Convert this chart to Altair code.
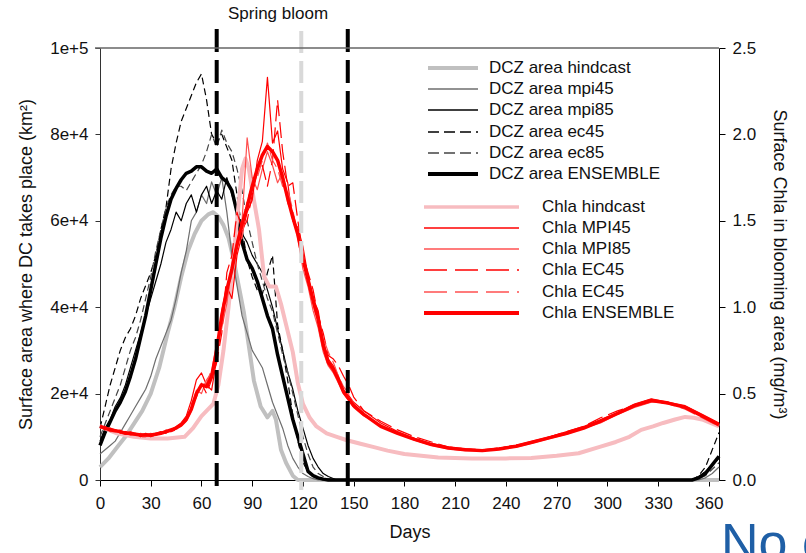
import altair as alt
import pandas as pd

FONT = "Liberation Sans"
TXT = "#111111"

# ---------------- data ----------------
# DCZ area (thousand km2)
dcz_grid = list(range(0, 136, 3)) + [140, 350, 354, 358, 362, 366]

dcz_hind_days = [0, 5, 10, 15, 20, 25, 30, 35, 40, 44,
                 48, 52, 56, 60, 64, 67, 70, 73, 76, 79,
                 82, 85, 88, 91, 95, 99, 102, 104, 107, 110,
                 114, 117, 366]
dcz_hind = [3, 5, 7.5, 10, 13, 16, 20, 26, 34, 40,
            47, 53, 57, 60, 61.5, 62, 61, 59, 56, 51,
            45, 39, 31, 23, 17, 14.5, 16, 14, 7, 4,
            1, 0, 0]

dcz_mpi45 = [6, 7, 8, 9, 11, 13, 15, 17, 19, 21,
             24, 28, 31, 34, 37, 42, 48, 53, 60, 62,
             66, 64, 69, 66, 70, 62, 52, 45, 38, 34,
             30, 28, 26, 22, 18, 15, 12, 8, 5, 3,
             1.5, 0.8, 0.3, 0, 0, 0,
             0, 0, 0, 0.5, 1.5, 3]
dcz_mpi85 = [9, 12, 14, 17, 19, 22, 26, 30, 34, 38,
             42, 46, 50, 55, 58, 62, 60, 64, 66, 62,
             66, 68, 64, 67, 65, 70, 66, 62, 57, 55,
             52, 50, 48, 44, 40, 35, 30, 25, 21, 16,
             12, 8, 5, 3, 1.5, 0.8,
             0, 0, 0.8, 2, 3.5, 5]
dcz_ec45 = [12, 17, 22, 26, 30, 33, 35, 38, 42, 45,
            48, 52, 58, 63, 72, 78, 83, 86, 89, 92,
            94, 88, 80, 78, 80, 77, 74, 66, 58, 51,
            47, 44, 43, 48, 52, 36, 30, 23, 15, 9,
            4, 2, 0.8, 0.3, 0, 0,
            0, 0, 1, 3, 7, 11]
dcz_ec85 = [10, 13, 16, 19, 22, 26, 30, 33, 37, 42,
            47, 53, 58, 63, 66, 68, 68, 67, 69, 71,
            73, 76, 80, 77, 81, 78, 76, 72, 67, 60,
            55, 50, 46, 42, 39, 34, 29, 25, 20, 15,
            10, 6, 3, 1.5, 0.8, 0.3,
            0, 0, 0.3, 1, 2.5, 4]
dcz_ens = [8, 11, 13.5, 16, 18, 20.5, 24, 28, 33, 38,
           44, 50, 56, 61, 65, 67.5, 69.5, 71, 71.5, 72.5,
           72.5, 71.5, 71, 72, 70, 69, 67, 62, 55, 51,
           49, 46, 42, 38, 35, 29, 24, 19, 14, 10,
           6, 2, 1, 0.5, 0.2, 0,
           0, 0, 0.5, 1.5, 3.5, 5.5]

# Surface Chla (mg/m3)
chla_grid = list(range(0, 151, 3)) + list(range(156, 367, 10))

chla_hind_days = [0, 10, 20, 30, 40, 50, 55, 60, 64, 67,
                  70, 73, 76, 79, 82, 84, 86, 88, 91, 94,
                  97, 100, 104, 107, 110, 114, 117, 120, 124, 128,
                  134, 140, 146, 154, 162, 170, 180, 190, 200, 220,
                  240, 255, 270, 283, 295, 305, 313, 320, 327, 333,
                  340, 346, 351, 356, 361, 366]
chla_hind = [0.31, 0.27, 0.25, 0.24, 0.24, 0.25, 0.30, 0.37, 0.41, 0.44,
             0.55, 0.75, 1.0, 1.3, 1.6, 1.8, 1.86, 1.8, 1.62, 1.45,
             1.18, 1.12, 1.12, 1.02, 0.9, 0.74, 0.56, 0.44, 0.36, 0.31,
             0.27, 0.25, 0.23, 0.21, 0.19, 0.17, 0.15, 0.14, 0.13, 0.125,
             0.125, 0.127, 0.14, 0.155, 0.19, 0.22, 0.25, 0.29, 0.31, 0.33,
             0.35, 0.365, 0.36, 0.35, 0.33, 0.31]

chla_mpi45 = [0.30, 0.31, 0.29, 0.29, 0.28, 0.28, 0.27, 0.27, 0.26, 0.27,
              0.26, 0.27, 0.28, 0.27, 0.29, 0.31, 0.33, 0.37, 0.46, 0.58,
              0.62, 0.55, 0.52, 0.70, 0.98, 1.12, 1.05, 1.30, 1.42, 1.55,
              1.62, 1.85, 1.96, 2.33, 1.95, 2.02, 1.80, 1.72, 1.50, 1.46,
              1.35, 1.18, 1.05, 0.98, 0.80, 0.70, 0.66, 0.60, 0.52, 0.49,
              0.45,
              0.40, 0.33, 0.28, 0.24, 0.21, 0.19, 0.18, 0.17, 0.185, 0.20,
              0.225, 0.25, 0.28, 0.31, 0.35, 0.39, 0.44, 0.47, 0.45, 0.43,
              0.38, 0.33]
chla_mpi85 = [0.32, 0.30, 0.30, 0.28, 0.29, 0.27, 0.28, 0.26, 0.27, 0.26,
              0.27, 0.26, 0.27, 0.29, 0.28, 0.30, 0.31, 0.34, 0.40, 0.52,
              0.50, 0.58, 0.62, 0.80, 0.88, 1.02, 1.25, 1.38, 1.50, 1.98,
              1.75, 1.68, 1.80, 1.90, 1.82, 1.72, 1.78, 1.60, 1.55, 1.40,
              1.22, 1.12, 0.98, 0.88, 0.74, 0.66, 0.62, 0.56, 0.50, 0.46,
              0.42,
              0.37, 0.32, 0.27, 0.23, 0.20, 0.18, 0.17, 0.17, 0.18, 0.19,
              0.215, 0.24, 0.265, 0.30, 0.33, 0.38, 0.42, 0.45, 0.45, 0.42,
              0.37, 0.31]
chla_ec45 = [0.31, 0.29, 0.30, 0.29, 0.27, 0.28, 0.26, 0.27, 0.25, 0.26,
             0.25, 0.26, 0.27, 0.28, 0.28, 0.29, 0.32, 0.36, 0.42, 0.48,
             0.56, 0.50, 0.58, 0.68, 0.85, 1.20, 1.30, 1.55, 1.45, 1.50,
             1.65, 1.78, 1.82, 1.70, 1.85, 2.20, 1.90, 1.70, 1.72, 1.50,
             1.30, 1.20, 1.10, 0.95, 0.85, 0.72, 0.70, 0.66, 0.60, 0.55,
             0.48,
             0.40, 0.34, 0.29, 0.25, 0.22, 0.19, 0.18, 0.175, 0.185, 0.20,
             0.22, 0.25, 0.28, 0.31, 0.36, 0.40, 0.43, 0.46, 0.44, 0.42,
             0.37, 0.32]
chla_ec45b = [0.30, 0.30, 0.28, 0.28, 0.27, 0.27, 0.26, 0.26, 0.25, 0.25,
              0.26, 0.27, 0.26, 0.28, 0.29, 0.30, 0.33, 0.35, 0.44, 0.50,
              0.55, 0.56, 0.64, 0.72, 0.90, 1.05, 1.20, 1.35, 1.40, 1.62,
              1.70, 1.75, 1.85, 1.95, 1.85, 1.80, 1.70, 1.68, 1.56, 1.42,
              1.28, 1.14, 1.02, 0.90, 0.82, 0.74, 0.68, 0.60, 0.54, 0.50,
              0.44,
              0.38, 0.31, 0.27, 0.24, 0.21, 0.19, 0.175, 0.17, 0.18, 0.195,
              0.22, 0.245, 0.27, 0.30, 0.34, 0.38, 0.43, 0.46, 0.44, 0.41,
              0.36, 0.31]
chla_ens = [0.31, 0.30, 0.29, 0.285, 0.28, 0.27, 0.27, 0.265, 0.26, 0.26,
            0.26, 0.265, 0.27, 0.28, 0.29, 0.30, 0.32, 0.35, 0.41, 0.50,
            0.55, 0.54, 0.60, 0.75, 0.95, 1.10, 1.22, 1.36, 1.48, 1.58,
            1.70, 1.80, 1.88, 1.93, 1.90, 1.85, 1.75, 1.63, 1.52, 1.42,
            1.28, 1.16, 1.04, 0.93, 0.78, 0.68, 0.64, 0.58, 0.51, 0.47,
            0.43,
            0.38, 0.31, 0.27, 0.235, 0.205, 0.185, 0.175, 0.17, 0.18, 0.195,
            0.22, 0.245, 0.27, 0.30, 0.34, 0.385, 0.43, 0.46, 0.445, 0.42,
            0.37, 0.32]

bloom_black_days = [69, 146.5]
bloom_gray_days = [119]

# ---------------- encodings ----------------
x_enc = alt.X(
    "day:Q",
    scale=alt.Scale(domain=[0, 366], nice=False, zero=False),
    axis=alt.Axis(values=list(range(0, 361, 30)), title="Days", grid=False,
                  labelFlush=False, tickSize=6, labelPadding=9, titlePadding=12,
                  labelFontSize=17, titleFontSize=18, labelFont=FONT, titleFont=FONT,
                  labelColor=TXT, titleColor=TXT, titleFontWeight="normal",
                  domainColor="#000", tickColor="#000"),
)
y_dcz = alt.Y(
    "v:Q",
    scale=alt.Scale(domain=[0, 100], nice=False),
    axis=alt.Axis(orient="left", values=[0, 20, 40, 60, 80, 100],
                  labelExpr="datum.value == 0 ? '0' : (datum.value >= 100 ? '1e+5' : (datum.value / 10) + 'e+4')",
                  title="Surface area where DC takes place (km²)", grid=False,
                  labelFlush=False, tickSize=5, labelPadding=7, titlePadding=14,
                  labelFontSize=17, titleFontSize=18, labelFont=FONT, titleFont=FONT,
                  labelColor=TXT, titleColor=TXT, titleFontWeight="normal",
                  domainColor="#333", tickColor="#333"),
)
y_chla = alt.Y(
    "c:Q",
    scale=alt.Scale(domain=[0, 2.5], nice=False),
    axis=alt.Axis(orient="right", values=[0, 0.5, 1.0, 1.5, 2.0, 2.5], format=".1f",
                  title="Surface Chla in blooming area (mg/m³)", grid=False,
                  labelFlush=False, tickSize=6, labelPadding=7, titlePadding=14,
                  labelFontSize=17, titleFontSize=18, labelFont=FONT, titleFont=FONT,
                  labelColor=TXT, titleColor=TXT, titleFontWeight="normal",
                  domainColor="#000", tickColor="#000"),
)


def line(days, vals, field, y_enc, color, width, dash=None):
    df = pd.DataFrame({"day": days, field: vals})
    kw = dict(color=color, strokeWidth=width, strokeJoin="round", clip=False)
    if dash:
        kw["strokeDash"] = dash
    return alt.Chart(df).mark_line(**kw).encode(x=x_enc, y=y_enc)


D_DASH = [7, 4]
C_DASH = [16, 6]

dcz_layers = [
    line(dcz_hind_days, dcz_hind, "v", y_dcz, "#C0C0C0", 4),
    line(dcz_grid, dcz_mpi45, "v", y_dcz, "#6E6E6E", 1.2),
    line(dcz_grid, dcz_mpi85, "v", y_dcz, "#000000", 1.2),
    line(dcz_grid, dcz_ec45, "v", y_dcz, "#000000", 1.2, D_DASH),
    line(dcz_grid, dcz_ec85, "v", y_dcz, "#444444", 1.2, D_DASH),
    line(dcz_grid, dcz_ens, "v", y_dcz, "#000000", 3.5),
]
chla_layers = [
    line(chla_hind_days, chla_hind, "c", y_chla, "#F7BCC0", 4),
    line(chla_grid, chla_mpi45, "c", y_chla, "#FF0000", 1.2),
    line(chla_grid, chla_mpi85, "c", y_chla, "#FF5050", 1.2),
    line(chla_grid, chla_ec45, "c", y_chla, "#FF0000", 1.2, C_DASH),
    line(chla_grid, chla_ec45b, "c", y_chla, "#FF5050", 1.2, C_DASH),
    line(chla_grid, chla_ens, "c", y_chla, "#FF0000", 3.5),
]

dcz = alt.layer(*dcz_layers)
chla = alt.layer(*chla_layers)

bloom_black = alt.Chart(pd.DataFrame({"day": bloom_black_days})).mark_rule(
    color="#000000", strokeWidth=4, strokeDash=[23, 8]
).encode(x=x_enc, y=alt.value(-19), y2=alt.value(442))
bloom_gray = alt.Chart(pd.DataFrame({"day": bloom_gray_days})).mark_rule(
    color="#D9D9D9", strokeWidth=4, strokeDash=[22, 8]
).encode(x=x_enc, y=alt.value(-17), y2=alt.value(442))

one = pd.DataFrame({"k": [0]})
frame_top = alt.Chart(one).mark_rule(color="#666666", strokeWidth=1.5).encode(
    x=alt.value(-5), x2=alt.value(619), y=alt.value(0))

# legend entries: label, sample x0, x1, text x, y, color, width, dash
legend_rows = [
    ("DCZ area hindcast", 328, 378, 389, 20, "#C0C0C0", 4, None),
    ("DCZ area mpi45", 328, 378, 389, 41, "#6E6E6E", 1.5, None),
    ("DCZ area mpi85", 328, 378, 389, 62, "#000000", 1.5, None),
    ("DCZ area ec45", 328, 378, 389, 84, "#000000", 1.5, [11, 5]),
    ("DCZ area ec85", 328, 378, 389, 105, "#444444", 1.5, [11, 5]),
    ("DCZ area ENSEMBLE", 328, 378, 389, 126, "#000000", 4, None),
    ("Chla hindcast", 324, 419, 442, 159, "#F7BCC0", 3.5, None),
    ("Chla MPI45", 324, 419, 442, 180, "#FF0000", 1.5, None),
    ("Chla MPI85", 324, 419, 442, 201, "#FF5050", 1.5, None),
    ("Chla EC45", 324, 419, 442, 222, "#FF0000", 1.5, [23, 8]),
    ("Chla EC45", 324, 419, 442, 244, "#FF5050", 1.5, [23, 8]),
    ("Chla ENSEMBLE", 324, 419, 442, 265, "#FF0000", 4, None),
]
legend_layers = []
for lab, x0, x1, tx, yy, col, w, dash in legend_rows:
    kw = dict(color=col, strokeWidth=w)
    if dash:
        kw["strokeDash"] = dash
    legend_layers.append(
        alt.Chart(one).mark_rule(**kw).encode(x=alt.value(x0), x2=alt.value(x1), y=alt.value(yy)))
    legend_layers.append(
        alt.Chart(one).mark_text(text=lab, align="left", baseline="middle", font=FONT,
                                 fontSize=17, color=TXT).encode(x=alt.value(tx), y=alt.value(yy)))

spring = alt.Chart(one).mark_text(text="Spring bloom", align="center", baseline="middle",
                                  font=FONT, fontSize=17, color=TXT).encode(
    x=alt.value(178), y=alt.value(-34))
noc = alt.Chart(one).mark_text(text="No c", align="left", baseline="alphabetic",
                               font=FONT, fontSize=52, color="#1F5FA6").encode(
    x=alt.value(621), y=alt.value(512))

chart = alt.layer(
    dcz, chla, bloom_black, bloom_gray, frame_top, *legend_layers, spring, noc
).resolve_scale(y="independent").properties(
    width=619, height=432,
    autosize=alt.AutoSizeParams(type="none"),
    padding={"left": 100, "top": 48, "right": 87, "bottom": 73},
    background="white",
).configure_view(stroke=None)

chart.save("out.html", embed_options={"renderer": "svg", "actions": False})
